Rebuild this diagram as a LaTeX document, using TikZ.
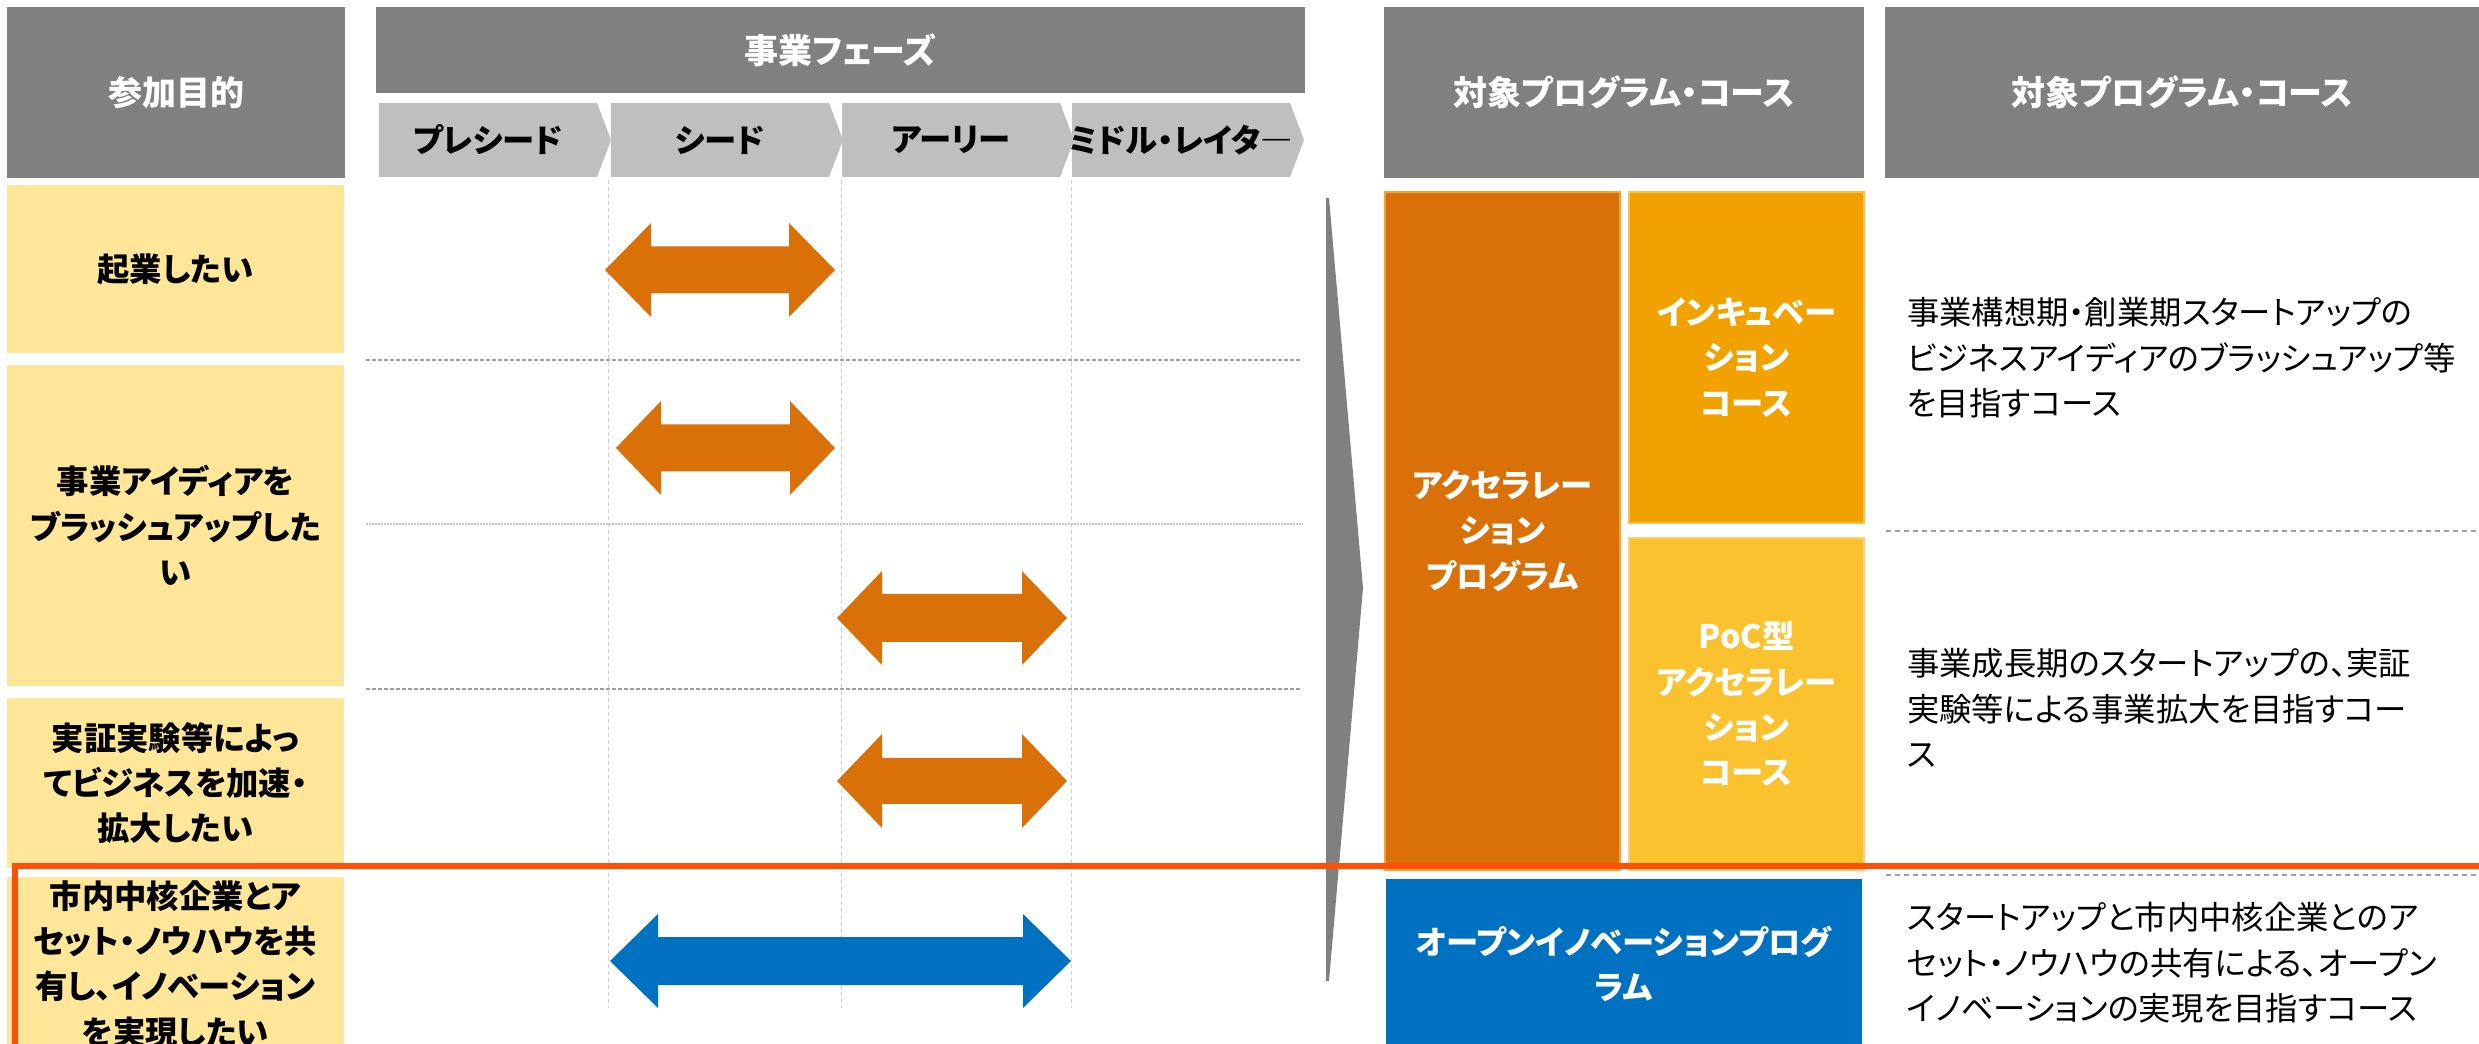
\documentclass[tikz,border=0pt]{standalone}
\usepackage{fontspec}
\setmainfont{Noto Sans CJK JP}[RawFeature=+palt]
\definecolor{hdr}{HTML}{808080}
\definecolor{chev}{HTML}{BFBFBF}
\definecolor{ylw}{HTML}{FFE699}
\definecolor{org}{HTML}{D97008}
\definecolor{orgedge}{HTML}{F2A530}
\definecolor{orgL}{HTML}{F2A200}
\definecolor{orgLedge}{HTML}{FBC04A}
\definecolor{poc}{HTML}{FAC22E}
\definecolor{pocedge}{HTML}{FDD070}
\definecolor{blu}{HTML}{0070C0}
\definecolor{redl}{HTML}{FF5008}
\definecolor{gridc}{HTML}{D0D0D0}
\definecolor{dashc}{HTML}{A0A0A0}
\definecolor{dashl}{HTML}{C4C4C4}
\newcommand\myfs{\fontsize{9.7pt}{13.6pt}\selectfont}
\newcommand\myhfs{\fontsize{10.2pt}{13.6pt}\selectfont}
\newcommand\bx[7]{\node[#6, minimum width={(#4-#2)*0.3pt}, minimum height={(#5-#3)*0.3pt}] (#1) at ({(#2+#4)/2},{(#3+#5)/2}) {#7};}
\newcommand\dbl[7]{\fill[#7] (#1,#3) -- ({#1+#4},{#3-#5}) -- ({#1+#4},{#3-#6}) -- ({#2-#4},{#3-#6}) -- ({#2-#4},{#3-#5}) -- (#2,#3) -- ({#2-#4},{#3+#5}) -- ({#2-#4},{#3+#6}) -- ({#1+#4},{#3+#6}) -- ({#1+#4},{#3+#5}) -- cycle;}
\newcommand\chev[3]{\fill[chev] (#1,103) -- ({#1+218},103) -- ({#1+232},140) -- ({#1+218},177) -- (#1,177) -- cycle;
 \node[chevtext] (#2) at ({#1+109},140) {#3};}
\tikzset{
 every node/.style={inner sep=0pt, outer sep=0pt},
 hdrbox/.style={fill=hdr, text=white, font=\bfseries\myhfs, align=center},
 chevtext/.style={text=black, font=\bfseries\myfs},
 purp/.style={fill=ylw, text=black, font=\bfseries\myfs, align=center},
 orgbox/.style={fill=org, draw=orgedge, line width=0.6pt, text=white, font=\bfseries\myfs, align=center},
 incbox/.style={fill=orgL, draw=orgLedge, line width=0.6pt, text=white, font=\bfseries\myfs, align=center},
 pocbox/.style={fill=poc, draw=pocedge, line width=0.6pt, text=white, font=\bfseries\myfs, align=center},
 blubox/.style={fill=blu, text=white, font=\bfseries\myfs, align=center},
 desc/.style={text=black, font=\myfs, align=left, anchor=west},
 gridline/.style={draw=gridc, line width=0.3pt, dash pattern=on 1.2pt off 0.9pt},
 hdash/.style={draw=dashc, line width=0.6pt, dash pattern=on 1.2pt off 0.6pt},
 hdashl/.style={draw=dashl, line width=0.6pt, dash pattern=on 0.6pt off 0.3pt},
 rdash/.style={draw=dashc, line width=0.6pt, dash pattern=on 1.5pt off 1.2pt},
 redframe/.style={draw=redl, line width=1.8pt},
}
\begin{document}
\begin{tikzpicture}[x=0.3pt,y=-0.3pt]
\fill[white] (0,0) rectangle (2479,1044);
\useasboundingbox (0,0) rectangle (2479,1044);
\clip (0,0) rectangle (2479,1044);
% headers
\bx{hPurpose}{7}{7}{345}{178}{hdrbox}{参加目的}
\bx{hPhase}{376}{7}{1305}{93}{hdrbox}{事業フェーズ}
\bx{hProg}{1384}{7}{1864}{178}{hdrbox}{対象プログラム・コース}
\bx{hDesc}{1885}{7}{2479}{178}{hdrbox}{対象プログラム・コース}
% chevrons
\chev{379}{c1}{プレシード}
\chev{611}{c2}{シード}
\chev{842}{c3}{アーリー}
\chev{1072}{c4}{ミドル・レイタ―}
% grid lines
\foreach \gx in {608,841,1071} \draw[gridline] (\gx,180) -- (\gx,1008);
\draw[hdash] (366,360) -- (1302,360);
\draw[hdashl] (366,524) -- (1302,524);
\draw[hdash] (366,689) -- (1302,689);
% purpose boxes
\bx{p1}{7}{185}{344}{353}{purp}{起業したい}
\bx{p2}{7}{365}{344}{686}{purp}{事業アイディアを\\ブラッシュアップした\\い}
\bx{p3}{7}{698}{344}{868}{purp}{実証実験等によっ\\てビジネスを加速・\\拡大したい}
\bx{p4}{7}{877}{344}{1051}{purp}{市内中核企業とア\\セット・ノウハウを共\\有し、イノベーション\\を実現したい}
% arrows
\dbl{605}{835}{270}{46}{47}{23.5}{org}
\dbl{616}{835}{448}{45}{47}{23.5}{org}
\dbl{837}{1067}{618}{45}{47}{24}{org}
\dbl{837}{1067}{781}{45}{47}{23}{org}
\dbl{610}{1071}{961}{48}{47}{24}{blu}
% wedge
\fill[hdr] (1326,198) -- (1329,198) -- (1363,588) -- (1329,981) -- (1326,981) -- cycle;
% program boxes
\bx{accel}{1385}{192}{1620}{870}{orgbox}{アクセラレー\\ション\\プログラム}
\bx{incub}{1629}{192}{1864}{523}{incbox}{インキュベー\\ション\\コース}
\bx{poc}{1629}{538}{1864}{870}{pocbox}{PoC型\\アクセラレー\\ション\\コース}
\bx{open}{1386}{879}{1862}{1049}{blubox}{オープンイノベーションプログ\\ラム}
% descriptions
\node[desc] (d1) at (1907,358) {事業構想期・創業期スタートアップの\\ビジネスアイディアのブラッシュアップ等\\を目指すコース};
\node[desc] (d2) at (1907,708) {事業成長期のスタートアップの、実証\\実験等による事業拡大を目指すコー\\ス};
\node[desc] (d3) at (1907,963) {スタートアップと市内中核企業とのア\\セット・ノウハウの共有による、オープン\\イノベーションの実現を目指すコース};
\draw[rdash] (1886,531) -- (2479,531);
\draw[rdash] (1886,875) -- (2479,875);
% red highlight frame
\coordinate (rf1) at (14.5,1060);
\coordinate (rf2) at (14.5,866);
\coordinate (rf3) at (2490,866);
\draw[redframe] (rf1) -- (rf2) -- (rf3);
\end{tikzpicture}
\end{document}
